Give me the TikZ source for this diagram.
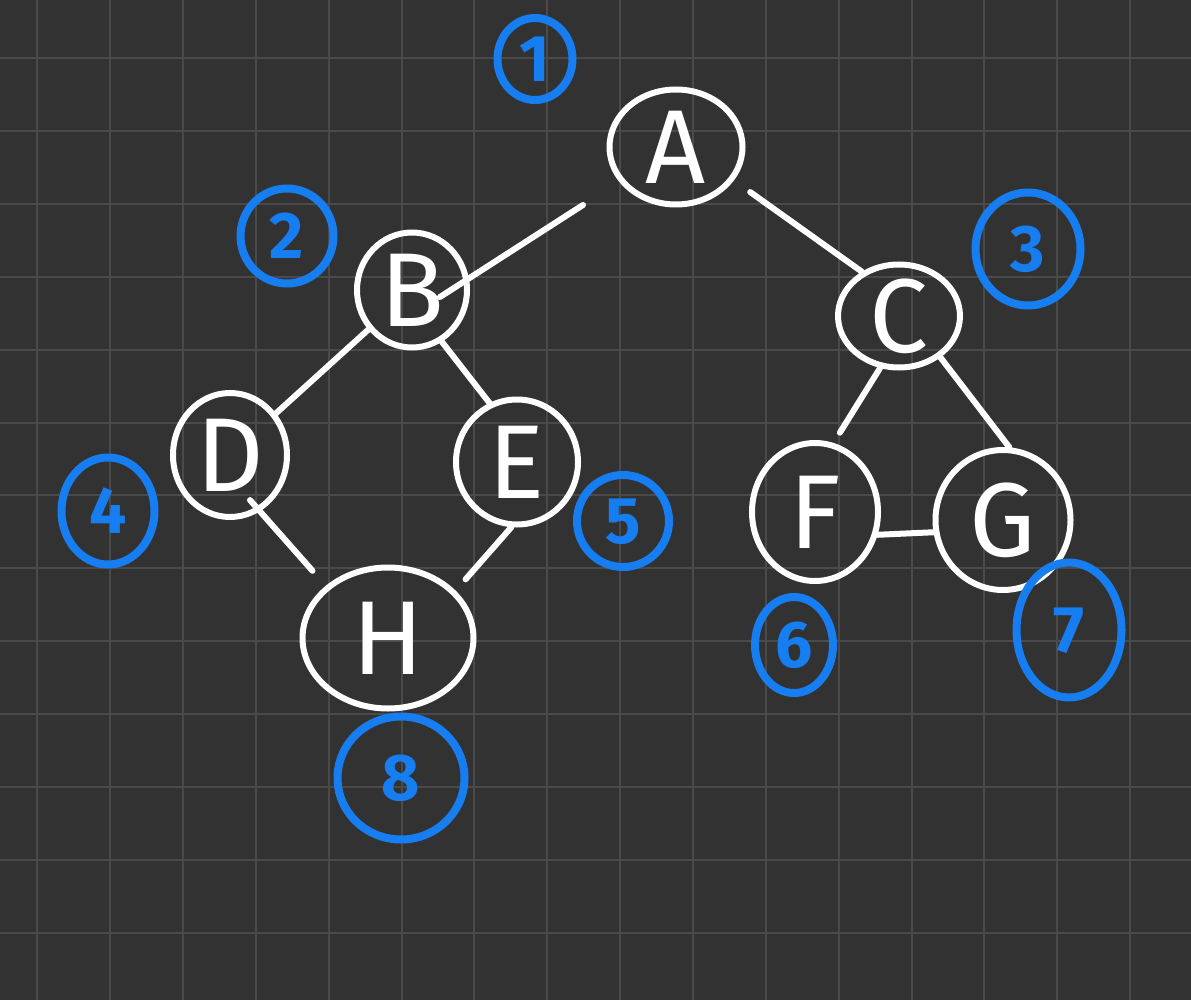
\documentclass[tikz,border=0pt]{standalone}
\usepackage{fontspec}
\setmainfont{Fira Sans}
\usetikzlibrary{shapes.geometric,calc}
\definecolor{bgc}{RGB}{50,50,50}
\definecolor{gridc}{RGB}{74,74,74}
\definecolor{inkblue}{RGB}{22,126,240}
\newcommand\cglyph[1]{\raisebox{-0.345em}[0pt][0pt]{#1}}
\begin{document}
\begin{tikzpicture}[x=1pt,y=-1pt,
  treenode/.style={ellipse, draw=white, line width=6pt, inner sep=0pt, text=white,
    font=\fontsize{105}{105}\selectfont},
  numlabel/.style={ellipse, draw=inkblue, line width=8pt, inner sep=0pt, text=inkblue,
    font=\fontsize{66}{66}\selectfont\bfseries},
  link/.style={draw=white, line width=6pt, line cap=round}]
\fill[bgc] (0,0) rectangle (1191,1000);
\useasboundingbox (0,0) rectangle (1191,1000);
\foreach \i in {0,...,15} \draw[gridc, line width=2pt] ({37.3+72.85*\i},0) -- ({37.3+72.85*\i},1000);
\foreach \j in {0,...,12} \draw[gridc, line width=2pt] (0,{58.3+72.85*\j}) -- (1191,{58.3+72.85*\j});

% tree nodes
\node[treenode, minimum width=133pt, minimum height=115pt] (a) at (676,147) {\cglyph{A}};
\node[treenode, minimum width=110pt, minimum height=115pt] (b) at (412,290) {\cglyph{B}};
\node[treenode, minimum width=122pt, minimum height=103pt] (c) at (899,316) {\cglyph{C}};
\node[treenode, minimum width=114pt, minimum height=124pt] (d) at (230,455) {\cglyph{D}};
\node[treenode, minimum width=122pt, minimum height=125pt] (e) at (517,462) {\cglyph{E}};
\node[treenode, minimum width=126pt, minimum height=138pt] (f) at (815,512) {\cglyph{F}};
\node[treenode, minimum width=135pt, minimum height=140pt] (g) at (1003,520) {\cglyph{G}};
\node[treenode, minimum width=171pt, minimum height=141pt] (h) at (388,638) {\cglyph{H}};

% order labels
\node[numlabel, minimum width=75pt, minimum height=82pt] (n1) at (535,59) {\cglyph{1}};
\node[numlabel, minimum width=93pt, minimum height=95pt] (n2) at (287,236) {\cglyph{2}};
\node[numlabel, minimum width=105pt, minimum height=113pt] (n3) at (1028,249) {\cglyph{3}};
\node[numlabel, minimum width=93pt, minimum height=107pt] (n4) at (108,511) {\cglyph{4}};
\node[numlabel, minimum width=92pt, minimum height=92pt] (n5) at (623,521) {\cglyph{5}};
\node[numlabel, minimum width=78pt, minimum height=96pt] (n6) at (794,645) {\cglyph{6}};
\node[numlabel, minimum width=105pt, minimum height=135pt] (n7) at (1069,630) {\cglyph{7}};
\node[numlabel, minimum width=127pt, minimum height=123pt] (n8) at (401,778) {\cglyph{8}};

% edges
\draw[link] ($(a)+(-93,58)$) -- ($(b)+(28,7)$);
\draw[link, shorten <=20pt] (a.-30) -- (c.130);
\draw[link] (b) -- (d);
\draw[link] (b.-60) -- (e.115);
\draw[link, shorten >=12pt] (c.-110) -- (f.75);
\draw[link] (c.-45) -- (g.85);
\draw[link, shorten <=-15pt, shorten >=20pt] (d.-62) -- (h.140);
\draw[link, shorten >=15pt] (e.-95) -- (h.35);
\draw[link] (f.-20) -- (g.190);
\end{tikzpicture}
\end{document}
